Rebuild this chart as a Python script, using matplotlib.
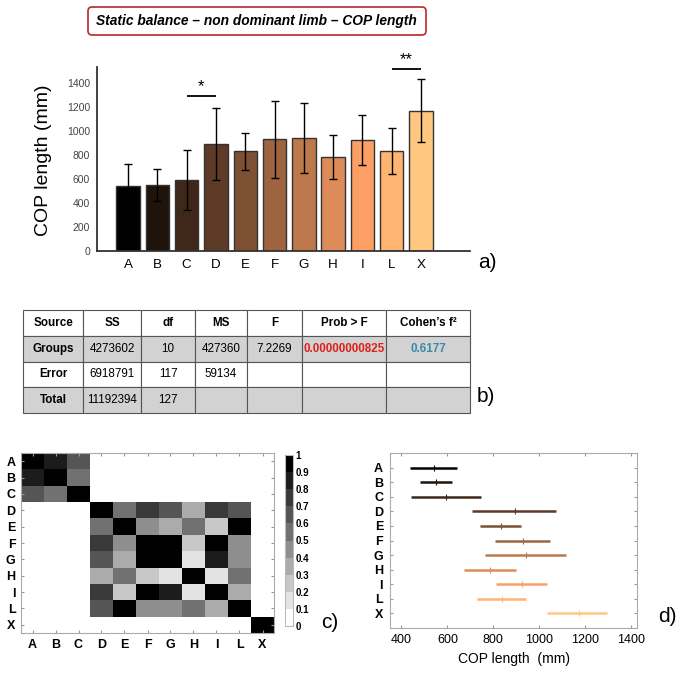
import numpy as np
import matplotlib
matplotlib.use('Agg')
import matplotlib.pyplot as plt
from matplotlib import font_manager
from matplotlib.colors import ListedColormap, BoundaryNorm
from matplotlib.patches import FancyBboxPatch

# ---------------- data ----------------
groups = ['A', 'B', 'C', 'D', 'E', 'F', 'G', 'H', 'I', 'L', 'X']
means = [542, 550, 594, 894, 833, 931, 944, 786, 925, 836, 1172]
sds = [180, 133, 252, 300, 155, 318, 290, 185, 208, 190, 263]
sig_pairs = [('C', 'D'), ('L', 'X')]
sig_marks = ['*', '**']
sig_levels = [1290, 1517]

table_cols = ['Source', 'SS', 'df', 'MS', 'F', 'Prob > F', 'Cohen\u2019s f\u00b2']
table_rows = [
    ['Groups', '4273602', '10', '427360', '7.2269', '0.00000000825', '0.6177'],
    ['Error', '6918791', '117', '59134', '', '', ''],
    ['Total', '11192394', '127', '', '', '', ''],
]

sim = [
    [1.00, 0.85, 0.65, 0, 0, 0, 0, 0, 0, 0, 0],
    [0.85, 1.00, 0.55, 0, 0, 0, 0, 0, 0, 0, 0],
    [0.65, 0.55, 1.00, 0, 0, 0, 0, 0, 0, 0, 0],
    [0, 0, 0, 1.00, 0.55, 0.75, 0.65, 0.35, 0.75, 0.65, 0],
    [0, 0, 0, 0.55, 1.00, 0.45, 0.35, 0.55, 0.25, 0.95, 0],
    [0, 0, 0, 0.75, 0.45, 1.00, 1.00, 0.25, 0.95, 0.45, 0],
    [0, 0, 0, 0.65, 0.35, 1.00, 1.00, 0.15, 0.85, 0.45, 0],
    [0, 0, 0, 0.35, 0.55, 0.25, 0.15, 1.00, 0.15, 0.55, 0],
    [0, 0, 0, 0.75, 0.25, 0.95, 0.85, 0.15, 1.00, 0.35, 0],
    [0, 0, 0, 0.65, 0.95, 0.45, 0.45, 0.55, 0.35, 1.00, 0],
    [0, 0, 0, 0, 0, 0, 0, 0, 0, 0, 1.00],
]

ci_low = [436, 480, 443, 707, 740, 806, 762, 672, 810, 727, 1033]
ci_high = [642, 620, 748, 1074, 921, 1048, 1114, 898, 1034, 940, 1295]


def has_font(name):
    try:
        font_manager.findfont(font_manager.FontProperties(family=name),
                              fallback_to_default=False)
        return True
    except Exception:
        return False


HAS_NARROW = has_font('Liberation Sans Narrow')
NARROW = 'Liberation Sans Narrow' if HAS_NARROW else 'Liberation Sans'
NS = 1.0 if HAS_NARROW else 0.84   # size factor when no narrow font
plt.rcParams['font.family'] = ['Liberation Sans', 'DejaVu Sans']

W, H = 683, 675
fig = plt.figure(figsize=(W / 100, H / 100), dpi=100)


def rect(x0, y0, x1, y1):
    return [x0 / W, 1 - y1 / H, (x1 - x0) / W, (y1 - y0) / H]


n = len(groups)
cols = [plt.cm.copper(i / (n - 1)) for i in range(n)]

# ---------------- title ----------------
box = FancyBboxPatch((88 / W, 1 - 35 / H), (426 - 88) / W, 28 / H,
                     boxstyle='round,pad=0,rounding_size=0.006',
                     transform=fig.transFigure, facecolor='white',
                     edgecolor='#b8282a', linewidth=1.2)
fig.patches.append(box)
fig.text(256 / W, 1 - 21.5 / H, 'Static balance \u2013 non dominant limb \u2013 COP length',
         family=NARROW, fontsize=11.8 * NS, fontweight='bold', fontstyle='italic',
         ha='center', va='center')

# ---------------- a) bar chart ----------------
axa = fig.add_axes(rect(97, 67, 470, 251))
x = np.arange(n)
axa.bar(x, means, width=0.8, color=cols, edgecolor='#333333', linewidth=1.0, zorder=2)
axa.errorbar(x, means, yerr=sds, fmt='none', ecolor='black', elinewidth=1.0,
             capsize=3, capthick=1.0, zorder=3)
for (g1, g2), mk, lv in zip(sig_pairs, sig_marks, sig_levels):
    i1, i2 = groups.index(g1), groups.index(g2)
    axa.plot([i1, i2], [lv, lv], color='black', lw=1.3, solid_capstyle='butt')
    axa.text((i1 + i2) / 2, lv + 20, mk, ha='center', va='bottom', fontsize=12)
axa.set_xlim(-1.06, 11.67)
axa.set_ylim(0, 1535)
axa.set_yticks(range(0, 1401, 200))
axa.set_xticks(x)
axa.set_xticklabels(groups, family=NARROW, fontsize=11.5 * NS)
axa.tick_params(axis='y', length=0, pad=5, labelsize=7.5, labelcolor='#444444')
axa.tick_params(axis='x', length=0, pad=6)
for s in ['top', 'right']:
    axa.spines[s].set_visible(False)
for s in ['left', 'bottom']:
    axa.spines[s].set_color('#333333')
    axa.spines[s].set_linewidth(1.3)
fig.text(44 / W, 1 - 160 / H, 'COP length (mm)', rotation=90, fontsize=14,
         ha='center', va='center')
fig.text(487 / W, 1 - 262 / H, 'a)', fontsize=15, ha='center', va='center')

# ---------------- b) table ----------------
axb = fig.add_axes(rect(23, 310, 470, 413))
axb.axis('off')
colw = np.array([60, 58, 54, 52, 55, 84, 84], dtype=float)
tab = axb.table(cellText=table_rows, colLabels=table_cols, cellLoc='center',
                bbox=[0, 0, 1, 1], colWidths=list(colw / colw.sum()))
tab.auto_set_font_size(False)
for (r, c), cell in tab.get_celld().items():
    cell.set_edgecolor('#555555')
    cell.set_linewidth(0.8)
    t = cell.get_text()
    t.set_family(NARROW)
    t.set_fontsize(10 * NS)
    if r in (1, 3):
        cell.set_facecolor('#d2d2d2')
    else:
        cell.set_facecolor('white')
    if r == 0 or c == 0:
        t.set_fontweight('bold')
    if r == 1 and c == 5:
        t.set_color('#e0201a')
        t.set_fontweight('bold')
    if r == 1 and c == 6:
        t.set_color('#3a8aa6')
        t.set_fontweight('bold')
fig.text(486 / W, 1 - 396 / H, 'b)', fontsize=15, ha='center', va='center')

# ---------------- c) similarity map ----------------
gray_levels = ['#ffffff', '#e3e3e3', '#c8c8c8', '#ababab', '#8e8e8e',
               '#717171', '#555555', '#393939', '#1c1c1c', '#000000']
cmap = ListedColormap(gray_levels)
bounds = np.linspace(0, 1, 11)
norm = BoundaryNorm(bounds, cmap.N)
axc = fig.add_axes(rect(21, 453, 274, 633))
im = axc.imshow(np.array(sim), cmap=cmap, norm=norm, aspect='auto',
                interpolation='nearest')
axc.set_xticks(range(n))
axc.set_yticks(range(n))
axc.set_xticklabels(groups, fontweight='bold', fontsize=9)
axc.set_yticklabels(groups, fontweight='bold', fontsize=9)
axc.tick_params(direction='in', length=2.5, color='#999999', top=True, right=True,
                pad=4)
for s in axc.spines.values():
    s.set_color('#aaaaaa')
    s.set_linewidth(0.8)
cax = fig.add_axes(rect(285, 455, 293, 626))
cb = fig.colorbar(im, cax=cax, ticks=bounds)
cb.ax.set_yticklabels(['0'] + ['%.1f' % v for v in bounds[1:-1]] + ['1'],
                      fontweight='bold', fontsize=7)
cb.ax.tick_params(length=0, pad=2)
cb.outline.set_edgecolor('#bbbbbb')
cb.outline.set_linewidth(0.8)
fig.text(330 / W, 1 - 622 / H, 'c)', fontsize=15, ha='center', va='center')

# ---------------- d) comparison intervals ----------------
axd = fig.add_axes(rect(390, 453, 637, 628))
yy = np.arange(1, n + 1)
axd.hlines(yy, ci_low, ci_high, colors=cols, linewidth=1.8)
for i in range(n):
    axd.plot(means[i], yy[i], marker='|', markersize=4, mew=0.8, color=cols[i])
axd.set_xlim(350, 1425)
axd.set_ylim(12, 0)
axd.set_yticks(yy)
axd.set_yticklabels(groups, fontweight='bold', fontsize=9)
axd.set_xticks(range(400, 1401, 200))
axd.tick_params(axis='x', labelsize=9, pad=4)
axd.tick_params(direction='in', length=2.5, color='#999999', top=True, right=True)
axd.tick_params(axis='y', pad=5)
for s in axd.spines.values():
    s.set_color('#aaaaaa')
    s.set_linewidth(0.8)
axd.set_xlabel('COP length  (mm)', fontsize=10, labelpad=5)
fig.text(667 / W, 1 - 617 / H, 'd)', fontsize=15, ha='center', va='center')

fig.savefig('out.png', dpi=100)
